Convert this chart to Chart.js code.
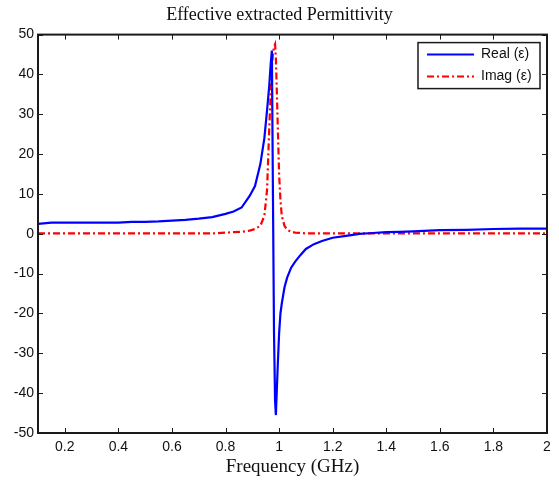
<!DOCTYPE html>
<html>
<head>
<meta charset="utf-8">
<script src="https://cdn.jsdelivr.net/npm/chart.js@4/dist/chart.umd.min.js"></script>
<style>
  html, body { margin: 0; padding: 0; background: #fff; }
  #wrap { width: 559px; height: 486px; }
</style>
</head>
<body>
<div id="wrap"><canvas id="epsChart" width="559" height="486"></canvas></div>
<script>
// frequency samples (GHz), denser around the resonance
const freq = [0.1, 0.15, 0.2, 0.25, 0.3, 0.35, 0.4, 0.45, 0.5, 0.55, 0.6, 0.65, 0.7, 0.75,
  0.8, 0.83, 0.86, 0.89, 0.91, 0.93, 0.945, 0.955, 0.963, 0.969, 0.973, 0.977, 0.981,
  0.985, 0.988, 0.991, 0.995, 1.0, 1.005, 1.01, 1.02, 1.03, 1.045, 1.06, 1.08, 1.1,
  1.13, 1.16, 1.2, 1.25, 1.3, 1.35, 1.4, 1.45, 1.5, 1.6, 1.7, 1.8, 1.9, 2.0];

const realEps = [2.5, 2.8, 2.8, 2.8, 2.8, 2.8, 2.8, 3.0, 3.0, 3.1, 3.3, 3.5, 3.8, 4.2,
  5.0, 5.6, 6.6, 9.5, 12, 17.5, 24, 31, 37, 43, 46, 10, -25,
  -42, -45.5, -40, -33, -25, -20, -17.5, -13.5, -11, -8.5, -7, -5.3, -3.8,
  -2.6, -1.8, -1.0, -0.5, 0, 0.2, 0.4, 0.5, 0.6, 0.9, 1.0, 1.2, 1.3, 1.3];

const imagEps = [0.1, 0.1, 0.1, 0.1, 0.1, 0.1, 0.1, 0.1, 0.1, 0.1, 0.1, 0.1, 0.1, 0.1,
  0.3, 0.4, 0.5, 0.8, 1.2, 2.0, 4.5, 11, 26, 36, 42, 45, 47,
  47.6, 44, 37, 27, 15, 8.5, 4.5, 2.0, 1.0, 0.5, 0.3, 0.2, 0.1,
  0.1, 0.1, 0.1, 0.1, 0.1, 0.1, 0.1, 0.1, 0.1, 0.1, 0.1, 0.1, 0.1, 0.1];

const xTicks = [0.2, 0.4, 0.6, 0.8, 1, 1.2, 1.4, 1.6, 1.8, 2];
const yTicks = [-50, -40, -30, -20, -10, 0, 10, 20, 30, 40, 50];
const seriesNames = ["Real (\u03b5)", "Imag (\u03b5)"];

const toPoints = (ys) => freq.map((f, i) => ({ x: f, y: ys[i] }));

// matlab style box with inward ticks + legend inside the axes
const axesBox = {
  id: "axesBox",
  afterDatasetsDraw(chart) {
    const { ctx, chartArea: a, scales } = chart;
    ctx.save();
    ctx.strokeStyle = "#1a1a1a";
    ctx.lineWidth = 1;
    ctx.setLineDash([]);
    ctx.beginPath();
    for (const v of xTicks) {
      const px = Math.round(scales.x.getPixelForValue(v)) + 0.5;
      ctx.moveTo(px, a.bottom); ctx.lineTo(px, a.bottom - 5);
      ctx.moveTo(px, a.top); ctx.lineTo(px, a.top + 5);
    }
    for (const v of yTicks) {
      const py = Math.round(scales.y.getPixelForValue(v)) + 0.5;
      ctx.moveTo(a.left, py); ctx.lineTo(a.left + 5, py);
      ctx.moveTo(a.right, py); ctx.lineTo(a.right - 5, py);
    }
    ctx.stroke();
    ctx.lineWidth = 2;
    ctx.strokeRect(a.left, a.top, a.right - a.left, a.bottom - a.top);

    // legend
    const lx = a.right - 129, ly = a.top + 8, lw = 122, lh = 46;
    ctx.fillStyle = "#fff";
    ctx.fillRect(lx, ly, lw, lh);
    ctx.lineWidth = 1.5;
    ctx.strokeStyle = "#1a1a1a";
    ctx.strokeRect(lx, ly, lw, lh);
    ctx.font = "14px 'Liberation Sans', Arial, sans-serif";
    ctx.textBaseline = "middle";
    ctx.fillStyle = "#111";
    chart.data.datasets.forEach((ds, i) => {
      const yy = ly + 12 + i * 22;
      ctx.strokeStyle = ds.borderColor;
      ctx.lineWidth = 2;
      ctx.setLineDash(ds.borderDash || []);
      ctx.beginPath();
      ctx.moveTo(lx + 9, yy); ctx.lineTo(lx + 56, yy);
      ctx.stroke();
      ctx.setLineDash([]);
      ctx.fillText(seriesNames[i], lx + 63, yy);
    });
    ctx.restore();
  },
};

new Chart(document.getElementById("epsChart"), {
  type: "line",
  data: {
    datasets: [
      {
        label: seriesNames[0],
        data: toPoints(realEps),
        borderColor: "#0000ff",
        borderWidth: 2.2,
      },
      {
        label: seriesNames[1],
        data: toPoints(imagEps),
        borderColor: "#ff0000",
        borderWidth: 2.2,
        borderDash: [7, 3, 2, 3],
      },
    ],
  },
  options: {
    responsive: false,
    animation: false,
    layout: { padding: { left: 12, right: 12, top: 0, bottom: 8 } },
    elements: { point: { radius: 0 }, line: { tension: 0 } },
    plugins: {
      legend: { display: false },
      tooltip: { enabled: false },
      title: {
        display: true,
        text: "Effective extracted Permittivity",
        color: "#111",
        font: { family: "'Liberation Serif', 'Times New Roman', serif", size: 18, weight: "normal" },
        padding: { top: 4, bottom: 9 },
      },
    },
    scales: {
      x: {
        type: "linear",
        min: 0.1,
        max: 2,
        grid: { display: false, drawTicks: false },
        border: { display: false },
        afterBuildTicks: (s) => { s.ticks = xTicks.map((v) => ({ value: v })); },
        afterFit: (s) => { s.height = 45; },
        ticks: {
          color: "#111",
          padding: 6,
          maxRotation: 0,
          font: { family: "'Liberation Sans', Arial, sans-serif", size: 14 },
          callback: (v) => String(v),
        },
        title: {
          display: true,
          text: "Frequency (GHz)",
          color: "#111",
          padding: 0,
          font: { family: "'Liberation Serif', 'Times New Roman', serif", size: 19 },
        },
      },
      y: {
        min: -50,
        max: 50,
        grid: { display: false, drawTicks: false },
        border: { display: false },
        afterBuildTicks: (s) => { s.ticks = yTicks.map((v) => ({ value: v })); },
        afterFit: (s) => { s.width = 26; },
        ticks: {
          color: "#111",
          padding: 4,
          font: { family: "'Liberation Sans', Arial, sans-serif", size: 14 },
        },
      },
    },
  },
  plugins: [axesBox],
});
</script>
</body>
</html>
